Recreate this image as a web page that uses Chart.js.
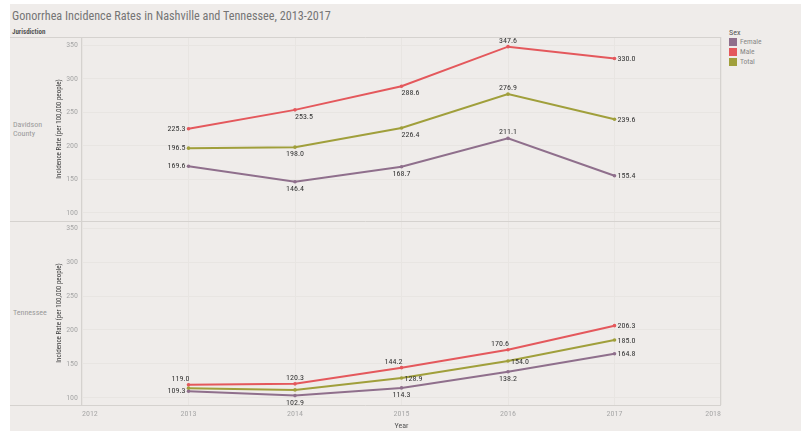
<!DOCTYPE html>
<html>
<head>
<meta charset="utf-8">
<script src="https://cdn.jsdelivr.net/npm/chart.js@4"></script>
<style>
  html, body { margin: 0; padding: 0; background: #ffffff; }
  #sheet { position: absolute; left: 10px; top: 4px; width: 791px; height: 427px; background: #efecea; }
  #wrap { position: absolute; left: 0; top: 0; width: 801px; height: 431px; }
  .t { position: absolute; white-space: nowrap; line-height: 1;
       font-family: 'Liberation Sans Narrow', 'Arial Narrow', 'Roboto Condensed', 'Liberation Sans', sans-serif; }
  #title { left: 12px; top: 10px; font-size: 12.2px; color: #757575; }
  #jur { left: 12px; top: 29px; font-size: 7px; font-weight: bold; color: #555; }
  .row { left: 13px; font-size: 8px; color: #9a9a9a; font-weight: normal; }
  #legTitle { left: 729px; top: 29px; font-size: 8px; color: #555; }
  .sw { position: absolute; left: 729px; width: 8px; height: 8px; }
  .lg { left: 740px; font-size: 7.5px; color: #888; }
</style>
</head>
<body>
<div id="sheet"></div>
<div class="t" id="title">Gonorrhea Incidence Rates in Nashville and Tennessee, 2013-2017</div>
<div class="t" id="jur">Jurisdiction</div>
<div class="t row" style="top:121px">Davidson</div>
<div class="t row" style="top:130px">County</div>
<div class="t row" style="top:309px">Tennessee</div>
<div class="t" id="legTitle">Sex</div>
<div class="sw" id="swF" style="top:38px"></div><div class="t lg" style="top:38px">Female</div>
<div class="sw" id="swM" style="top:48px"></div><div class="t lg" style="top:48px">Male</div>
<div class="sw" id="swT" style="top:58px"></div><div class="t lg" style="top:58px">Total</div>
<div id="wrap"><canvas id="c" width="801" height="431"></canvas></div>
<script>
// Gonorrhea incidence rate per 100,000 people, by year
const years = [2013, 2014, 2015, 2016, 2017];
const davidsonFemale = [169.6, 146.4, 168.7, 211.1, 155.4];
const davidsonMale   = [225.3, 253.5, 288.6, 347.6, 330.0];
const davidsonTotal  = [196.5, 198.0, 226.4, 276.9, 239.6];
const tennesseeFemale = [109.3, 102.9, 114.3, 138.2, 164.8];
const tennesseeMale   = [119.0, 120.3, 144.2, 170.6, 206.3];
const tennesseeTotal  = [113.9, 111.3, 128.9, 154.0, 185.0];
const yearTicks = [2012, 2013, 2014, 2015, 2016, 2017, 2018];
const rateTicks = [100, 150, 200, 250, 300, 350];

// Where each value label sits relative to its point
const davidsonFemalePos = ['left', 'below', 'below', 'above', 'right'];
const davidsonMalePos   = ['left', 'belowRight', 'belowRight', 'above', 'right'];
const davidsonTotalPos  = ['left', 'below', 'belowRight', 'above', 'right'];
const tennesseeFemalePos = ['left', 'below', 'below', 'below', 'right'];
const tennesseeMalePos   = ['aboveLeft', 'above', 'aboveLeft', 'aboveLeft', 'right'];
const tennesseeTotalPos  = [null, null, 'right', 'right', 'right'];

const COLORS = { Female: '#8f6f8c', Male: '#e4585c', Total: '#a09f3b' };
document.getElementById('swF').style.background = COLORS.Female;
document.getElementById('swM').style.background = COLORS.Male;
document.getElementById('swT').style.background = COLORS.Total;

const FONT = "'Liberation Sans Narrow', 'Arial Narrow', 'Roboto Condensed', 'Liberation Sans', sans-serif";
Chart.defaults.font.family = FONT;

function series(label, values, axis, pos) {
  return {
    label, yAxisID: axis, labelPos: pos,
    data: years.map((yr, i) => ({ x: yr, y: values[i] })),
    borderColor: COLORS[label], backgroundColor: COLORS[label],
    borderWidth: 2, pointRadius: 1.8, pointBorderWidth: 0, tension: 0
  };
}

// Frame lines around the two panels and the header column
const framePlugin = {
  id: 'frame',
  beforeDatasetsDraw(chart) {
    const { ctx, chartArea: a } = chart;
    const sep = chart.scales.yTop.bottom;
    ctx.save();
    ctx.strokeStyle = '#d5d2cf';
    ctx.lineWidth = 1;
    ctx.beginPath();
    [a.top, sep, a.bottom].forEach(y => {
      const yy = Math.round(y) + 0.5;
      ctx.moveTo(10, yy); ctx.lineTo(a.right, yy);
    });
    [a.left, a.right].forEach(x => {
      const xx = Math.round(x) - 0.5;
      ctx.moveTo(xx, a.top); ctx.lineTo(xx, a.bottom);
    });
    ctx.stroke();
    ctx.restore();
  }
};

// Value labels next to each point
const valueLabelPlugin = {
  id: 'valueLabels',
  afterDatasetsDraw(chart) {
    const ctx = chart.ctx;
    ctx.save();
    ctx.font = '8px ' + FONT;
    ctx.fillStyle = '#333333';
    chart.data.datasets.forEach((ds, di) => {
      const meta = chart.getDatasetMeta(di);
      meta.data.forEach((pt, i) => {
        const pos = ds.labelPos[i];
        if (!pos) return;
        const txt = ds.data[i].y.toFixed(1);
        let x = pt.x, y = pt.y;
        switch (pos) {
          case 'left':  ctx.textAlign = 'right';  ctx.textBaseline = 'middle'; x -= 3; break;
          case 'right': ctx.textAlign = 'left';   ctx.textBaseline = 'middle'; x += 3; y += 0.5; break;
          case 'above': ctx.textAlign = 'center'; ctx.textBaseline = 'bottom'; y -= 2; break;
          case 'aboveLeft': ctx.textAlign = 'right'; ctx.textBaseline = 'bottom'; x += 1; y -= 2; break;
          case 'below': ctx.textAlign = 'center'; ctx.textBaseline = 'top'; y += 3; break;
          case 'belowRight': ctx.textAlign = 'left'; ctx.textBaseline = 'top'; y += 3; break;
        }
        ctx.fillText(txt, x, y);
      });
    });
    ctx.restore();
  }
};

function rateAxis(weight) {
  return {
    type: 'linear', position: 'left', stack: 'panels', stackWeight: 1, weight,
    min: 88, max: 362,
    afterBuildTicks: s => { s.ticks = rateTicks.map(v => ({ value: v })); },
    afterFit: s => { s.width = 27; },
    grid: { color: '#e8e5e2', lineWidth: 1, drawTicks: false },
    border: { display: false },
    ticks: { color: '#a8a8a8', font: { size: 8 }, padding: 4 },
    title: { display: true, text: 'Incidence Rate (per 100,000 people)', color: '#3a3a3a',
             font: { size: 7 }, padding: { top: 0, bottom: 0 } }
  };
}

const topAxis = rateAxis(1);
const botAxis = rateAxis(0);
botAxis.min = 89; botAxis.max = 361;

new Chart(document.getElementById('c'), {
  type: 'line',
  data: {
    datasets: [
      series('Female', davidsonFemale, 'yTop', davidsonFemalePos),
      series('Male', davidsonMale, 'yTop', davidsonMalePos),
      series('Total', davidsonTotal, 'yTop', davidsonTotalPos),
      series('Female', tennesseeFemale, 'yBot', tennesseeFemalePos),
      series('Male', tennesseeMale, 'yBot', tennesseeMalePos),
      series('Total', tennesseeTotal, 'yBot', tennesseeTotalPos)
    ]
  },
  options: {
    responsive: false, animation: false,
    layout: { padding: { left: 55, right: 80, top: 37, bottom: 0 } },
    plugins: { legend: { display: false }, tooltip: { enabled: false } },
    scales: {
      x: {
        type: 'linear', min: yearTicks[0], max: yearTicks[yearTicks.length - 1],
        afterBuildTicks: s => { s.ticks = yearTicks.map(v => ({ value: v })); },
        afterFit: s => { s.height = 26; },
        grid: { color: '#e8e5e2', lineWidth: 1, drawTicks: false },
        border: { display: false },
        ticks: { align: 'inner', color: '#a8a8a8', font: { size: 8 }, padding: 4,
                 callback: v => String(v), maxRotation: 0 },
        title: { display: true, text: 'Year', color: '#555', font: { size: 8 }, padding: { top: 0, bottom: 0 } }
      },
      yTop: topAxis,
      yBot: botAxis
    }
  },
  plugins: [framePlugin, valueLabelPlugin]
});
</script>
</body>
</html>
